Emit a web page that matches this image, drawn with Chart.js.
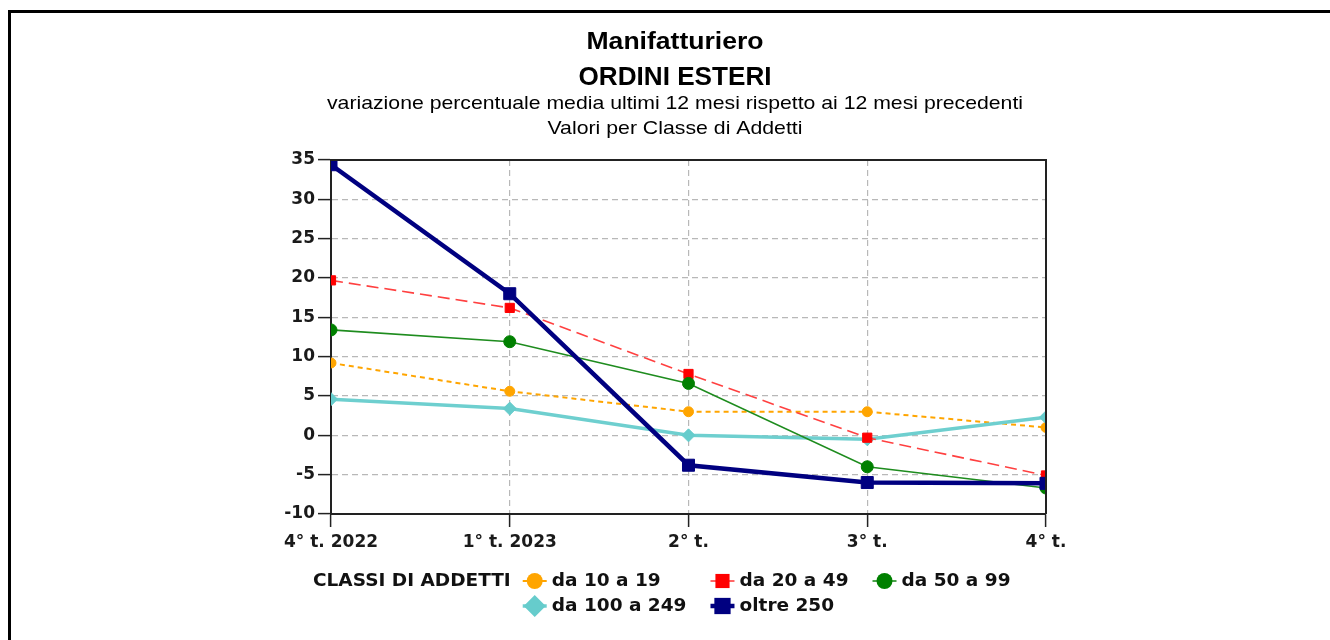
<!DOCTYPE html>
<html><head><meta charset="utf-8">
<script src="https://cdn.jsdelivr.net/npm/chart.js@4.4.0/dist/chart.umd.min.js"></script>
<style>
html,body{margin:0;padding:0;background:#fff;overflow:hidden}
#frame{position:absolute;left:8px;top:10px;width:1400px;height:700px;border-left:3px solid #000;border-top:3px solid #000;}
#wrap{position:absolute;left:0;top:0;width:1330px;height:640px}
</style></head><body>
<div id="frame"></div>
<div id="wrap"><canvas id="c" width="1330" height="640"></canvas></div>
<script>
const categories = ["4° t. 2022", "1° t. 2023", "2° t.", "3° t.", "4° t."];
const da10a19   = [9.2, 5.6, 3.0, 3.0, 1.0];
const da20a49   = [19.7, 16.2, 7.8, -0.3, -5.1];
const da50a99   = [13.4, 11.9, 6.6, -4.0, -6.7];
const da100a249 = [4.6, 3.4, 0.0, -0.5, 2.3];
const oltre250  = [34.4, 18.0, -3.8, -6.0, -6.1];
const seriesNames = ["da 10 a 19", "da 20 a 49", "da 50 a 99", "da 100 a 249", "oltre 250"];
const legendTitle = "CLASSI DI ADDETTI";
const titleLine1 = "Manifatturiero";
const titleLine2 = "ORDINI ESTERI";
const subtitleLines = ["variazione percentuale media ultimi 12 mesi rispetto ai 12 mesi precedenti", "Valori per Classe di Addetti"];
const yMin = -10, yMax = 35, yStep = 5;

const TARGET = {left: 331, right: 1046, top: 160, bottom: 514};

const datasets = [
  {label: seriesNames[0], data: da10a19, borderColor: '#FFA500', backgroundColor: '#FFA500', borderWidth: 2, borderDash: [5, 4],
   pointStyle: 'circle', pointRadius: 5, order: 5, lg: {r: 8}},
  {label: seriesNames[1], data: da20a49, borderColor: '#FF4040', backgroundColor: '#FF0000', borderWidth: 1.6, borderDash: [12, 6],
   pointStyle: 'rect', pointRadius: 6.5, order: 3, lg: {r: 10}},
  {label: seriesNames[2], data: da50a99, borderColor: '#1E8C1E', backgroundColor: '#008000', borderWidth: 1.6, borderDash: [],
   pointStyle: 'circle', pointRadius: 6, order: 2, lg: {r: 8}},
  {label: seriesNames[3], data: da100a249, borderColor: '#6ECFCF', backgroundColor: '#66CCCC', borderWidth: 3.5, borderDash: [],
   pointStyle: 'rectRot', pointRadius: 6.5, order: 4, lg: {r: 11}},
  {label: seriesNames[4], data: oltre250, borderColor: '#000080', backgroundColor: '#000080', borderWidth: 4.5, borderDash: [],
   pointStyle: 'rect', pointRadius: 8.5, order: 1, lg: {r: 11.5}}
].map(d => Object.assign({
  fill: false, tension: 0, clip: 0,
  pointBackgroundColor: d.backgroundColor, pointBorderColor: d.backgroundColor, pointBorderWidth: 1,
  pointHoverRadius: d.pointRadius
}, d));

function drawMarker(ctx, style, r, x, y) {
  ctx.beginPath();
  if (style === 'circle') { ctx.arc(x, y, r, 0, Math.PI * 2); }
  else if (style === 'rect') { const s = Math.SQRT1_2 * r; ctx.rect(x - s, y - s, 2 * s, 2 * s); }
  else if (style === 'rectRot') { ctx.moveTo(x - r, y); ctx.lineTo(x, y - r); ctx.lineTo(x + r, y); ctx.lineTo(x, y + r); ctx.closePath(); }
  ctx.fill();
}

const titlePlugin = {
  id: 'titles',
  afterDraw(chart) {
    const ctx = chart.ctx;
    const cx = chart.width / 2 + 10;
    const lines = [
      {t: titleLine1, font: 'bold 23px "Liberation Sans", Arial', y: 43, w: 177},
      {t: titleLine2, font: 'bold 25px "Liberation Sans", Arial', y: 78, w: 193},
      {t: subtitleLines[0], font: '19px "Liberation Sans", Arial', y: 104, w: 696},
      {t: subtitleLines[1], font: '19px "Liberation Sans", Arial', y: 129, w: 255}
    ];
    ctx.save();
    ctx.fillStyle = '#000';
    ctx.textAlign = 'center';
    ctx.textBaseline = 'middle';
    for (const l of lines) {
      ctx.font = l.font;
      const mw = ctx.measureText(l.t).width;
      const sx = l.w / mw;
      ctx.save();
      ctx.translate(cx, l.y);
      ctx.scale(sx, 1);
      ctx.fillText(l.t, 0, 0);
      ctx.restore();
    }
    ctx.restore();
  }
};

const framePlugin = {
  id: 'frame',
  afterDraw(chart) {
    const ctx = chart.ctx, a = chart.chartArea;
    ctx.save();
    ctx.strokeStyle = '#222';
    ctx.lineWidth = 2;
    ctx.beginPath();
    ctx.moveTo(a.left, a.top); ctx.lineTo(a.right, a.top); ctx.lineTo(a.right, a.bottom);
    ctx.stroke();
    ctx.restore();
  }
};

const legendPlugin = {
  id: 'customLegend',
  afterDraw(chart) {
    const ctx = chart.ctx;
    const ds = chart.data.datasets;
    ctx.save();
    ctx.font = 'bold 18.5px "DejaVu Sans"';
    ctx.textBaseline = 'middle';
    ctx.textAlign = 'left';
    const iconW = 24, iconGap = 5, colGap = 24, titleGap = 12, ncol = 3;
    const rowY = [581, 606];
    const colW = [];
    for (let c = 0; c < ncol; c++) {
      let m = 0;
      for (let i = c; i < ds.length; i += ncol) m = Math.max(m, ctx.measureText(ds[i].label).width);
      colW.push(iconW + iconGap + m);
    }
    const x0 = 313;
    ctx.fillStyle = '#111';
    ctx.fillText(legendTitle, x0, rowY[0]);
    const startX = x0 + ctx.measureText(legendTitle).width + titleGap;
    for (let i = 0; i < ds.length; i++) {
      const row = Math.floor(i / ncol), col = i % ncol;
      let x = startX;
      for (let c = 0; c < col; c++) x += colW[c] + colGap;
      const y = rowY[row];
      const d = ds[i];
      ctx.save();
      ctx.strokeStyle = d.borderColor;
      ctx.lineWidth = d.borderWidth;
      ctx.setLineDash([]);
      ctx.beginPath(); ctx.moveTo(x, y); ctx.lineTo(x + iconW, y); ctx.stroke();
      ctx.fillStyle = d.backgroundColor;
      drawMarker(ctx, d.pointStyle, d.lg.r, x + iconW / 2, y);
      ctx.restore();
      ctx.fillStyle = '#111';
      ctx.fillText(d.label, x + iconW + iconGap, y);
    }
    ctx.restore();
  }
};

const tickFont = {family: '"DejaVu Sans"', size: 17, weight: 'bold'};

const chart = new Chart(document.getElementById('c'), {
  type: 'line',
  data: {labels: categories, datasets: datasets},
  options: {
    responsive: false, animation: false, devicePixelRatio: 1,
    layout: {padding: {left: 260, top: 150, right: 284, bottom: 100}},
    plugins: {legend: {display: false}, tooltip: {enabled: false}, title: {display: false}},
    scales: {
      x: {
        type: 'category', offset: false,
        grid: {color: '#b8b8b8', lineWidth: 1.2, tickLength: 13, tickColor: '#222', tickWidth: 1.5, drawTicks: true},
        border: {display: true, color: '#222', width: 2, dash: [6, 4]},
        ticks: {font: tickFont, color: '#1a1a1a', padding: 5, maxRotation: 0, autoSkip: false}
      },
      y: {
        min: yMin, max: yMax,
        grid: {color: '#b8b8b8', lineWidth: 1.2, tickLength: 13, tickColor: '#222', tickWidth: 1.5, drawTicks: true},
        border: {display: true, color: '#222', width: 2, dash: [6, 4]},
        ticks: {stepSize: yStep, font: tickFont, color: '#1a1a1a', padding: 3}
      }
    }
  },
  plugins: [titlePlugin, framePlugin, legendPlugin]
});

for (let k = 0; k < 3; k++) {
  const ca = chart.chartArea;
  const p = chart.options.layout.padding;
  p.left += TARGET.left - ca.left;
  p.top += TARGET.top - ca.top;
  p.right += ca.right - TARGET.right;
  p.bottom += ca.bottom - TARGET.bottom;
  chart.update();
}
</script>
</body></html>
